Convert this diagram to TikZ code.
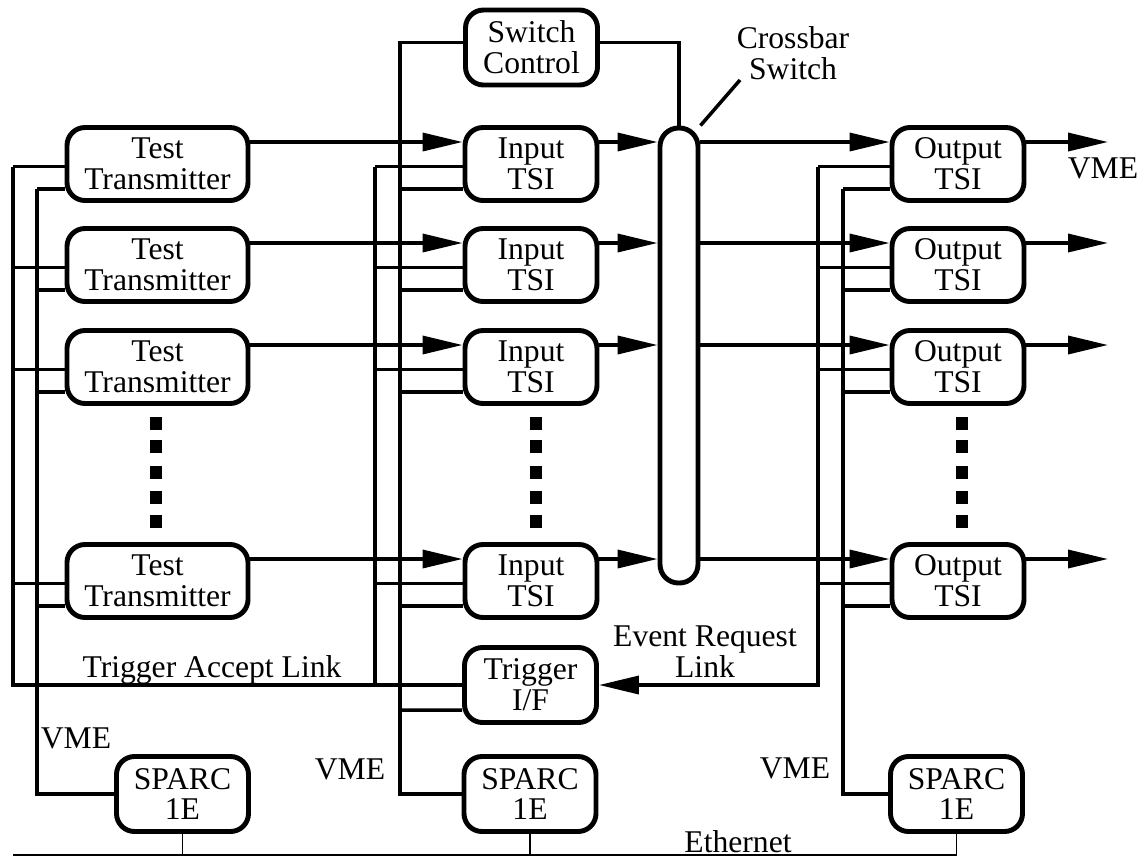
\documentclass[tikz,border=0pt]{standalone}
\usepackage{fontspec}
\setmainfont{Liberation Serif}
\usetikzlibrary{arrows.meta}

\begin{document}
\begin{tikzpicture}[x=0.2mm,y=-0.2mm,
  font=\fontsize{18}{17.6}\selectfont,
  unit/.style={draw,line width=2.8pt,rounded corners=3.6mm,align=center,inner sep=0pt,
    minimum width=26.4mm,minimum height=14.6mm},
  wide/.style={unit,minimum width=36.2mm},
  tag/.style={align=center,inner sep=1pt},
  wire/.style={line width=2pt},
  lan/.style={line width=1pt},
  sig/.style={wire,-{Triangle[length=8mm,width=3.6mm]}}]
  \useasboundingbox (0,0) rectangle (1143,858);
  \coordinate (busA) at (13,500);
  \coordinate (busB) at (37,500);
  \coordinate (busC) at (375,500);
  \coordinate (busD) at (400,500);
  \coordinate (busE) at (818,500);
  \coordinate (busF) at (843,500);
  \coordinate (vmeout) at (1108,0);
  \coordinate (xtip) at (740,80);
  \coordinate (ethL) at (13,855);
  \coordinate (ethR) at (957,855);

  \foreach \i/\c in {1/164,2/265,3/367,4/581} {
    \node[wide] (tx\i) at (157.5,\c) {Test\\Transmitter};
    \node[unit] (in\i) at (531,\c) {Input\\TSI};
    \node[unit] (out\i) at (958,\c) {Output\\TSI};
    \coordinate (sig\i) at (0,\c-22);
    \coordinate (ctl\i) at (0,\c+2.5);
    \coordinate (vme\i) at (0,\c+25);
  }
  \node[unit,minimum height=15mm] (swc) at (531.5,47.5) {Switch\\Control};
  \node[unit,minimum height=15mm] (trig) at (530.5,685) {Trigger\\I/F};
  \node[unit,minimum height=15mm] (sparcL) at (182.5,794) {SPARC\\1E};
  \node[unit,minimum height=15mm] (sparcM) at (530,794) {SPARC\\1E};
  \node[unit,minimum height=15mm] (sparcR) at (956.5,794) {SPARC\\1E};
  \node[draw,line width=2.8pt,rounded corners=3.7mm,minimum width=7.6mm,minimum height=91mm]
    (xbar) at (679,355.5) {};

  \node[tag] (xlab) at (793,53) {Crossbar\\Switch};
  \node[tag] (talk) at (212,670) {Trigger Accept Link};
  \node[tag] (erlk) at (705,652) {Event Request\\Link};
  \node[tag] (vmeA) at (76,738) {VME};
  \node[tag] (vmeB) at (350,769) {VME};
  \node[tag] (vmeC) at (795,768) {VME};
  \node[tag] (vmeD) at (1103,168) {VME};
  \node[tag] (eth) at (738,842) {Ethernet};

  \foreach \i in {1,...,4} {
    \draw[sig] (tx\i.east |- sig\i) -- (in\i.west |- sig\i);
    \draw[sig] (in\i.east |- sig\i) -- (xbar.west |- sig\i);
    \draw[sig] (xbar.east |- sig\i) -- (out\i.west |- sig\i);
    \draw[sig] (out\i.east |- sig\i) -- (vmeout |- sig\i);
    \draw[wire] (busA |- ctl\i) -- (tx\i.west |- ctl\i);
    \draw[wire] (busB |- vme\i) -- (tx\i.west |- vme\i);
    \draw[wire] (busC |- ctl\i) -- (in\i.west |- ctl\i);
    \draw[wire] (busD |- vme\i) -- (in\i.west |- vme\i);
    \draw[wire] (busE |- ctl\i) -- (out\i.west |- ctl\i);
    \draw[wire] (busF |- vme\i) -- (out\i.west |- vme\i);
  }

  \draw[wire] (busA |- ctl1) |- (trig.west);
  \draw[wire] (busC |- ctl1) -- (busC |- trig.west);
  \draw[wire] (busB |- vme1) |- (sparcL.west);
  \draw[wire] ([yshift=1mm]swc.west) -| (busD) |- (sparcM.west);
  \draw[wire] (busD |- trig.west) ++(0,25) -- ([yshift=-5mm]trig.west);
  \draw[sig] (busE |- ctl1) |- (trig.east);
  \draw[wire] (busF |- vme1) |- (sparcR.west);
  \draw[wire] ([yshift=1mm]swc.east) -| (xbar.north);
  \draw[wire] (xbar.north east) -- (xtip);

  \draw[lan] (ethL) -- (ethR);
  \draw[lan] (sparcL.south) -- (sparcL.south |- ethL);
  \draw[lan] (sparcM.south) -- (sparcM.south |- ethL);
  \draw[lan] (sparcR.south) -- (sparcR.south |- ethL);

  \foreach \x in {156,536,962}
    \foreach \y in {423,446,472,497,521}
      \fill (\x-6,\y-6.5) rectangle (\x+6,\y+6.5);
\end{tikzpicture}
\end{document}
